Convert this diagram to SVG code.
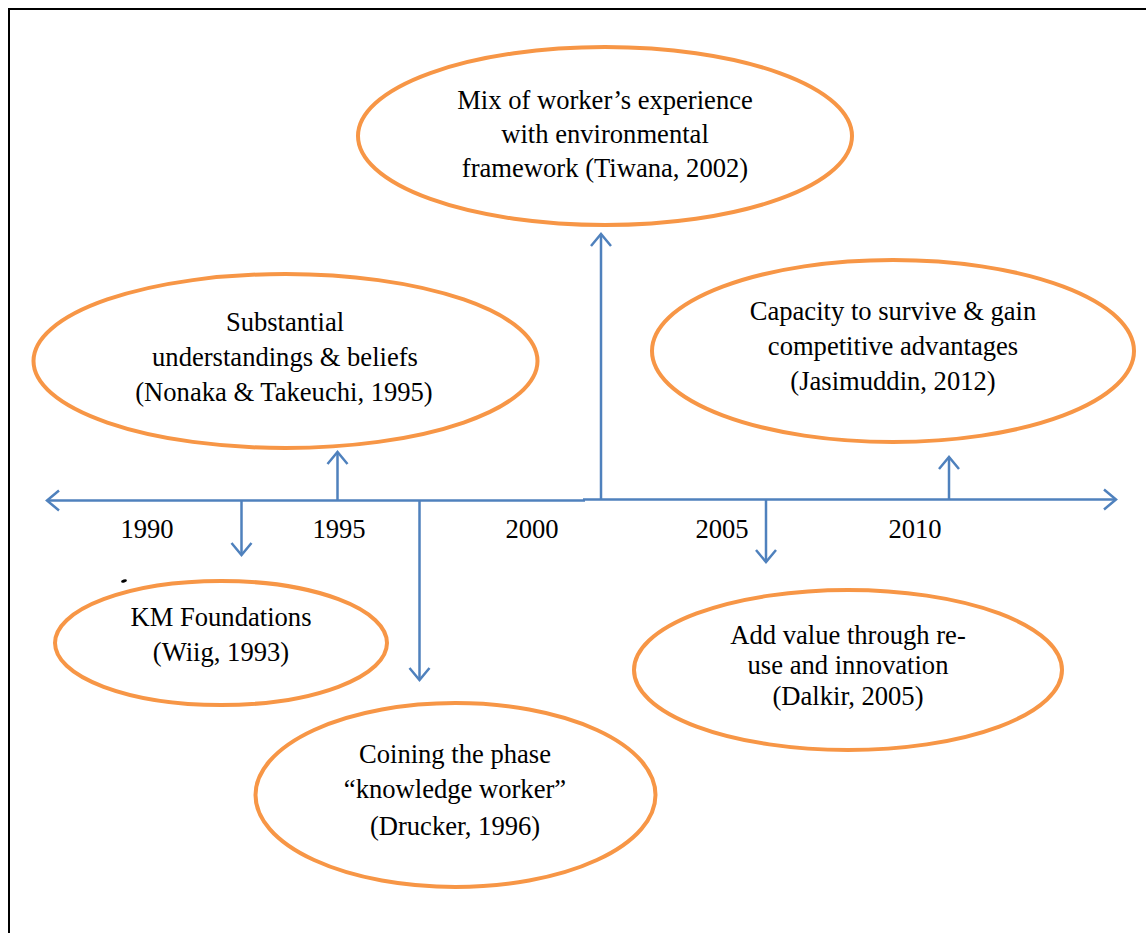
<svg xmlns="http://www.w3.org/2000/svg" width="1146" height="933" viewBox="0 0 1146 933">
  <style>
    .oval { fill: #ffffff; stroke: #F79646; stroke-width: 4; }
    .lbl { font-family: "Liberation Serif", "Times New Roman", serif; font-size: 26.6px; fill: #000000; text-anchor: middle; }
    .axis { stroke: #4F81BD; stroke-width: 2.5; fill: none; }
  </style>
  <defs>
    <marker id="tip" markerUnits="userSpaceOnUse" markerWidth="30" markerHeight="30" viewBox="-15 -15 30 30" refX="0" refY="0" orient="auto">
      <path d="M-12,-10 L0,0 L-12,10" fill="none" stroke="#4F81BD" stroke-width="2.5"/>
    </marker>
  </defs>

  <rect width="1146" height="933" fill="#ffffff"/>
  <!-- frame: only top and left edges fall inside the canvas -->
  <rect x="9" y="9" width="1200" height="1000" fill="none" stroke="#000000" stroke-width="2"/>

  <g id="connectors">
    <!-- timeline axis, arrowheads at both ends -->
    <path class="axis" d="M585,500.5 H47" marker-end="url(#tip)"/>
    <path class="axis" d="M583,499.5 H1116" marker-end="url(#tip)"/>
    <!-- event pointers -->
    <path class="axis" d="M241.5,500 V555" marker-end="url(#tip)"/>
    <path class="axis" d="M337.5,500 V452" marker-end="url(#tip)"/>
    <path class="axis" d="M419.5,500 V680" marker-end="url(#tip)"/>
    <path class="axis" d="M601,499 V234" marker-end="url(#tip)"/>
    <path class="axis" d="M766,500 V562" marker-end="url(#tip)"/>
    <path class="axis" d="M949,500 V457" marker-end="url(#tip)"/>
  </g>

  <g id="years">
    <text class="lbl" x="147" y="538">1990</text>
    <text class="lbl" x="339" y="538">1995</text>
    <text class="lbl" x="532" y="538">2000</text>
    <text class="lbl" x="722" y="538">2005</text>
    <text class="lbl" x="915" y="538">2010</text>
  </g>

  <g id="tiwana">
    <ellipse class="oval" cx="605" cy="136" rx="247" ry="89"/>
    <text class="lbl" x="605" y="109">Mix of worker’s experience</text>
    <text class="lbl" x="605" y="143">with environmental</text>
    <text class="lbl" x="605" y="177">framework (Tiwana, 2002)</text>
  </g>

  <g id="nonaka">
    <ellipse class="oval" cx="285.5" cy="361" rx="252" ry="87"/>
    <text class="lbl" x="285" y="331">Substantial</text>
    <text class="lbl" x="285" y="366">understandings &amp; beliefs</text>
    <text class="lbl" x="284" y="401">(Nonaka &amp; Takeuchi, 1995)</text>
  </g>

  <g id="jasimuddin">
    <ellipse class="oval" cx="893" cy="351" rx="241" ry="91"/>
    <text class="lbl" x="893" y="320">Capacity to survive &amp; gain</text>
    <text class="lbl" x="893" y="355">competitive advantages</text>
    <text class="lbl" x="893" y="390">(Jasimuddin, 2012)</text>
  </g>

  <g id="wiig">
    <ellipse class="oval" cx="221" cy="643" rx="166" ry="62"/>
    <text class="lbl" x="221" y="626">KM Foundations</text>
    <text class="lbl" x="221" y="661">(Wiig, 1993)</text>
    <ellipse cx="124" cy="581" rx="3" ry="1.5" transform="rotate(-15 124 581)" fill="#000000"/>
  </g>

  <g id="dalkir">
    <ellipse class="oval" cx="848" cy="670" rx="214" ry="80"/>
    <text class="lbl" x="848" y="644">Add value through re-</text>
    <text class="lbl" x="848" y="674">use and innovation</text>
    <text class="lbl" x="848" y="705">(Dalkir, 2005)</text>
  </g>

  <g id="drucker">
    <ellipse class="oval" cx="455.5" cy="795" rx="200" ry="92"/>
    <text class="lbl" x="455" y="763">Coining the phase</text>
    <text class="lbl" x="455" y="798">“knowledge worker”</text>
    <text class="lbl" x="455" y="835">(Drucker, 1996)</text>
  </g>
</svg>
